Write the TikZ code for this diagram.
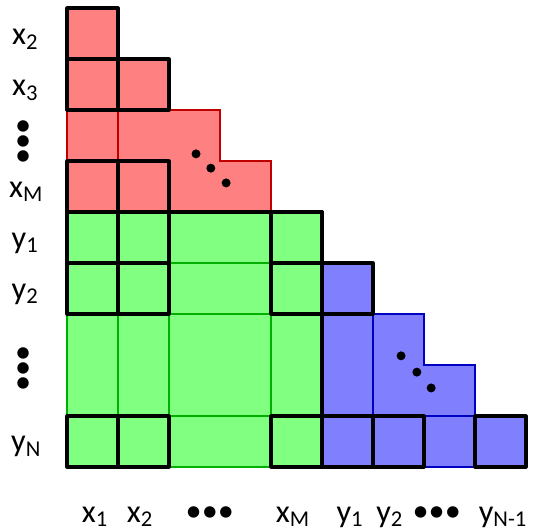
\documentclass[tikz,border=0pt]{standalone}
\usepackage{fontspec}
\setmainfont{Carlito}
\definecolor{redfill}{HTML}{FF8080}
\definecolor{redline}{HTML}{C00000}
\definecolor{greenfill}{HTML}{80FF80}
\definecolor{greenline}{HTML}{00B000}
\definecolor{bluefill}{HTML}{8080FF}
\definecolor{blueline}{HTML}{0000C0}

\begin{document}
\begin{tikzpicture}[x=1cm, y=-1cm, font=\fontsize{18}{22}\selectfont,
  box/.style={draw=black, line width=1.7pt, line join=round},
  edge/.style={line width=1.2pt},
  lbl/.style={anchor=base, inner sep=0pt},
  vdots/.style={align=center, inner sep=0pt, font=\fontsize{18}{8.4}\selectfont}]
\useasboundingbox (-1.314,-0.157) rectangle (9.137,10.255);
% red block
\fill[redfill] (0,0) -- (1,0) -- (1,1) -- (2,1) -- (2,2) -- (3,2) -- (3,3) -- (4,3) -- (4,4) -- (0,4) -- cycle;
\draw[edge, redline] (0,0) -- (1,0) -- (1,1) -- (2,1) -- (2,2) -- (3,2) -- (3,3) -- (4,3) -- (4,4) -- (0,4) -- cycle;
\draw[edge, redline] (1,2) -- (1,3);
% green block
\fill[greenfill] (0,4) rectangle (5,9);
\draw[edge, greenline] (0,4) rectangle (5,9);
\foreach \c in {1,2,4} \draw[edge, greenline] (\c,4) -- (\c,9);
\foreach \r in {5,6,8} \draw[edge, greenline] (0,\r) -- (5,\r);
% blue block
\fill[bluefill] (5,5) -- (6,5) -- (6,6) -- (7,6) -- (7,7) -- (8,7) -- (8,8) -- (9,8) -- (9,9) -- (5,9) -- cycle;
\draw[edge, blueline] (5,5) -- (6,5) -- (6,6) -- (7,6) -- (7,7) -- (8,7) -- (8,8) -- (9,8) -- (9,9) -- (5,9) -- cycle;
\draw[edge, blueline] (6,6) -- (6,8) -- (8,8);
% black cells
\foreach \c/\r in {0/0, 0/1, 1/1, 0/3, 1/3,
                   0/4, 1/4, 4/4, 0/5, 1/5, 4/5, 0/8, 1/8, 4/8,
                   5/5, 5/8, 6/8, 8/8}
  \draw[box] (\c,\r) rectangle ++(1,1);
\draw[box] (0,4) -- (5,4) -- (5,9);
% dots in the steps
\foreach \p in {(2.53,2.86), (2.82,3.14), (3.12,3.43),
                (6.55,6.82), (6.86,7.14), (7.14,7.45)}
  \fill \p circle (0.088);
% row labels
\node[lbl] (lx2) at (-0.82,0.72) {x\textsubscript{2}};
\node[lbl] (lx3) at (-0.82,1.72) {x\textsubscript{3}};
\node[vdots] (lxdots) at (-0.86,2.65) {•\\•\\•};
\node[lbl] (lxM) at (-0.80,3.71) {x\textsubscript{M}};
\node[lbl] (ly1) at (-0.82,4.71) {y\textsubscript{1}};
\node[lbl] (ly2) at (-0.82,5.71) {y\textsubscript{2}};
\node[vdots] (lydots) at (-0.86,7.10) {•\\•\\•};
\node[lbl] (lyN) at (-0.80,8.70) {y\textsubscript{N}};
% column labels
\node[lbl] (bx1) at (0.55,10.08) {x\textsubscript{1}};
\node[lbl] (bx2) at (1.43,10.08) {x\textsubscript{2}};
\node[inner sep=0pt] (bxdots) at (2.80,9.92) {•••};
\node[lbl] (bxM) at (4.43,10.08) {x\textsubscript{M}};
\node[lbl] (by1) at (5.55,10.08) {y\textsubscript{1}};
\node[lbl] (by2) at (6.33,10.08) {y\textsubscript{2}};
\node[inner sep=0pt] (bydots) at (7.25,9.92) {•••};
\node[lbl] (byN1) at (8.55,10.08) {y\textsubscript{N-1}};
\end{tikzpicture}
\end{document}
